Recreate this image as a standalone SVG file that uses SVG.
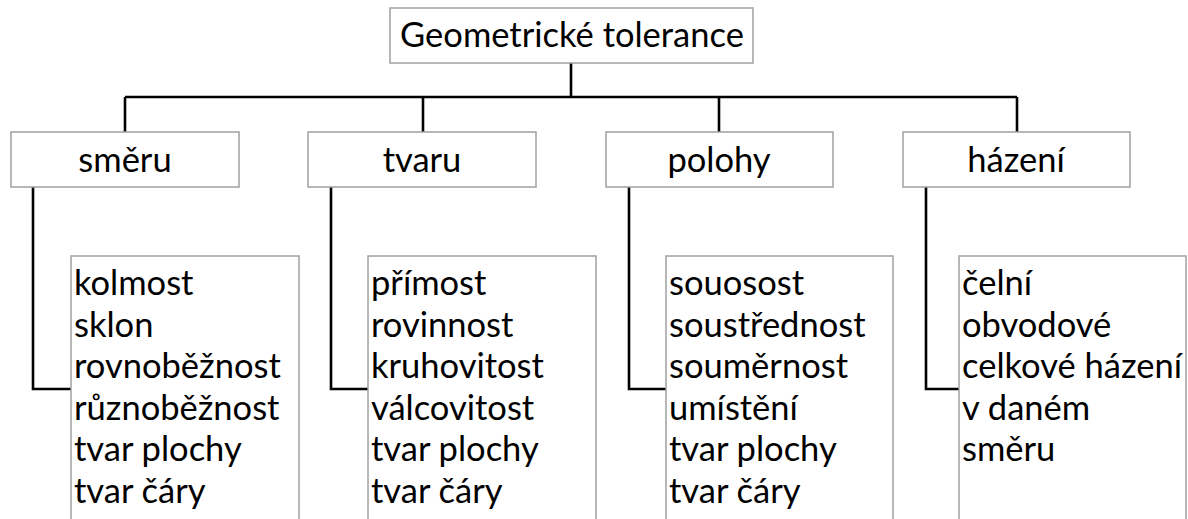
<svg xmlns="http://www.w3.org/2000/svg" width="1188" height="519" viewBox="0 0 1188 519">
  <style>
    .box { fill: #ffffff; stroke: #a0a0a0; stroke-width: 1.5; }
    .link { fill: none; stroke: #000000; stroke-width: 2.6; }
    text { font-family: Lato, "Open Sans", "DejaVu Sans", sans-serif; font-size: 34.5px; fill: #000000; }
    .c { text-anchor: middle; }
  </style>
  <rect width="1188" height="519" fill="#ffffff"/>

  <!-- connectors -->
  <g id="connectors">
    <path class="link" d="M571,63 V97"/>
    <path class="link" d="M125,97 H1017"/>
    <path class="link" d="M125,97 V132"/>
    <path class="link" d="M423,97 V132"/>
    <path class="link" d="M719,97 V132"/>
    <path class="link" d="M1017,97 V132"/>
    <path class="link" d="M33,187 V389 H71"/>
    <path class="link" d="M331,187 V389 H368"/>
    <path class="link" d="M629,187 V389 H666"/>
    <path class="link" d="M926,187 V389 H959"/>
  </g>

  <!-- root -->
  <g id="root">
    <rect class="box" x="390" y="8" width="363" height="55"/>
    <text class="c" x="572" y="47">Geometrické tolerance</text>
  </g>

  <!-- categories -->
  <g id="smeru">
    <rect class="box" x="11" y="132" width="228" height="55"/>
    <text class="c" x="125" y="172">směru</text>
  </g>
  <g id="tvaru">
    <rect class="box" x="308" y="132" width="228" height="55"/>
    <text class="c" x="422" y="172">tvaru</text>
  </g>
  <g id="polohy">
    <rect class="box" x="606" y="132" width="227" height="55"/>
    <text class="c" x="719" y="172">polohy</text>
  </g>
  <g id="hazeni">
    <rect class="box" x="903" y="132" width="227" height="55"/>
    <text class="c" x="1016" y="172">házení</text>
  </g>

  <!-- item lists (open at the bottom edge) -->
  <g id="list-smeru">
    <rect class="box" x="71" y="256" width="228" height="280"/>
    <text x="74" y="295">kolmost</text>
    <text x="74" y="336.5">sklon</text>
    <text x="74" y="378">rovnoběžnost</text>
    <text x="74" y="419.5">různoběžnost</text>
    <text x="74" y="461">tvar plochy</text>
    <text x="74" y="502.5">tvar čáry</text>
  </g>
  <g id="list-tvaru">
    <rect class="box" x="368" y="256" width="228" height="280"/>
    <text x="371" y="295">přímost</text>
    <text x="371" y="336.5">rovinnost</text>
    <text x="371" y="378">kruhovitost</text>
    <text x="371" y="419.5">válcovitost</text>
    <text x="371" y="461">tvar plochy</text>
    <text x="371" y="502.5">tvar čáry</text>
  </g>
  <g id="list-polohy">
    <rect class="box" x="666" y="256" width="227" height="280"/>
    <text x="669" y="295">souosost</text>
    <text x="669" y="336.5">soustřednost</text>
    <text x="669" y="378">souměrnost</text>
    <text x="669" y="419.5">umístění</text>
    <text x="669" y="461">tvar plochy</text>
    <text x="669" y="502.5">tvar čáry</text>
  </g>
  <g id="list-hazeni">
    <rect class="box" x="959" y="256" width="227" height="280"/>
    <text x="962" y="295">čelní</text>
    <text x="962" y="336.5">obvodové</text>
    <text x="962" y="378">celkové házení</text>
    <text x="962" y="419.5">v daném</text>
    <text x="962" y="461">směru</text>
  </g>
</svg>
